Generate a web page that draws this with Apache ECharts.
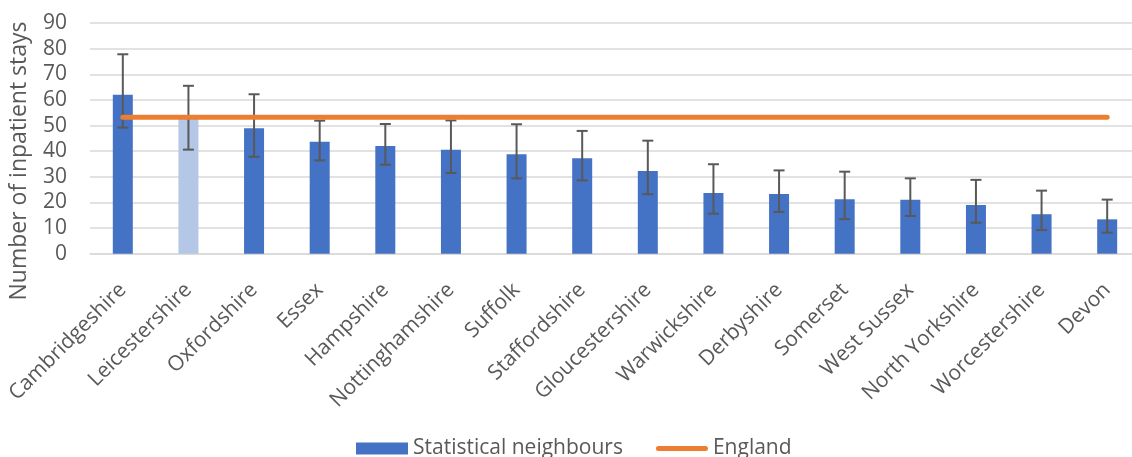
<!DOCTYPE html>
<html>
<head>
<meta charset="utf-8">
<script src="https://cdn.jsdelivr.net/npm/echarts@6/dist/echarts.min.js"></script>
<style>
  html, body { margin: 0; padding: 0; background: #fff; }
  #chart { width: 1132px; height: 457px; }
</style>
</head>
<body>
<div id="chart"></div>
<script>
// Inpatient stays per local authority, with confidence intervals
const categories = ['Cambridgeshire', 'Leicestershire', 'Oxfordshire', 'Essex', 'Hampshire',
  'Nottinghamshire', 'Suffolk', 'Staffordshire', 'Gloucestershire', 'Warwickshire',
  'Derbyshire', 'Somerset', 'West Sussex', 'North Yorkshire', 'Worcestershire', 'Devon'];
const values   = [62.0, 53.0, 48.9, 43.7, 42.0, 40.6, 38.8, 37.2, 32.3, 23.7, 23.3, 21.2, 21.0, 19.0, 15.4, 13.4];
const ciLower  = [49.2, 40.6, 37.8, 36.4, 34.7, 31.5, 29.4, 28.6, 23.2, 15.6, 16.3, 13.5, 14.7, 12.1, 9.2, 8.2];
const ciUpper  = [77.8, 65.5, 62.2, 51.9, 50.6, 52.0, 50.5, 47.9, 44.1, 34.9, 32.5, 32.0, 29.4, 28.8, 24.6, 21.1];
const englandValue = 53.2;
const yTicks = { min: 0, max: 90, interval: 10 };
const highlighted = 'Leicestershire';

const FONT = '"Open Sans", sans-serif';
const TEXT = '#595959';

// Rounded bar used as the legend marker of the England line (extra moveTo points keep the box 52x12)
const LINE_ICON = 'path://M0,0 M0,12 M2.5,3.5 L49.5,3.5 A2.5,2.5 0 0 1 49.5,8.5 L2.5,8.5 A2.5,2.5 0 0 1 2.5,3.5 Z';

const chart = echarts.init(document.getElementById('chart'), null, { renderer: 'canvas' });

const barData = categories.map((c, i) => ({
  value: values[i],
  itemStyle: { color: c === highlighted ? '#B4C7E7' : '#4472C4' }
}));
const errData = categories.map((c, i) => [i, ciLower[i], ciUpper[i]]);
const englandData = categories.map(() => englandValue);

chart.setOption({
  animation: false,
  textStyle: { fontFamily: FONT },
  grid: { left: 90, top: 23, width: 1050, height: 230.7, outerBoundsMode: 'none' },
  legend: {
    left: 356, top: 438, padding: 0,
    itemWidth: 52, itemHeight: 12, itemGap: 33,
    textStyle: { fontSize: 21, color: TEXT, fontFamily: FONT },
    data: [
      { name: 'Statistical neighbours', icon: 'rect' },
      { name: 'England', icon: LINE_ICON, itemStyle: { color: '#ED7D31' } }
    ]
  },
  graphic: [{
    type: 'text',
    x: 19, y: 161,
    rotation: Math.PI / 2,
    style: {
      text: 'Number of inpatient stays',
      font: '23px ' + FONT,
      fill: TEXT,
      align: 'center',
      verticalAlign: 'middle'
    }
  }],
  xAxis: {
    type: 'category',
    data: categories,
    axisTick: { show: false },
    axisLine: { lineStyle: { color: '#D9D9D9', width: 1.5 } },
    axisLabel: { rotate: 45, interval: 0, margin: 33, fontSize: 21, color: TEXT, fontFamily: FONT }
  },
  yAxis: {
    type: 'value',
    min: yTicks.min, max: yTicks.max, interval: yTicks.interval,
    axisLine: { show: false },
    axisTick: { show: false },
    axisLabel: { margin: 23, fontSize: 21, color: TEXT, fontFamily: FONT },
    splitLine: { lineStyle: { color: '#D9D9D9', width: 1.5 } }
  },
  series: [
    {
      name: 'Statistical neighbours',
      type: 'bar',
      barWidth: 20,
      itemStyle: { color: '#4472C4' },
      data: barData,
      z: 2
    },
    {
      name: 'CI',
      type: 'custom',
      data: errData,
      z: 3,
      encode: { x: 0, y: [1, 2] },
      renderItem: function (params, api) {
        const idx = api.value(0);
        const lo = api.coord([idx, api.value(1)]);
        const hi = api.coord([idx, api.value(2)]);
        const hw = 5.5;
        const style = { stroke: '#595959', lineWidth: 2 };
        return {
          type: 'group',
          children: [
            { type: 'line', shape: { x1: lo[0], y1: lo[1], x2: hi[0], y2: hi[1] }, style },
            { type: 'line', shape: { x1: hi[0] - hw, y1: hi[1], x2: hi[0] + hw, y2: hi[1] }, style },
            { type: 'line', shape: { x1: lo[0] - hw, y1: lo[1], x2: lo[0] + hw, y2: lo[1] }, style }
          ]
        };
      }
    },
    {
      name: 'England',
      type: 'line',
      data: englandData,
      symbol: 'none',
      z: 4,
      itemStyle: { color: '#ED7D31' },
      lineStyle: { color: '#ED7D31', width: 5, cap: 'round' }
    }
  ]
});
</script>
</body>
</html>
